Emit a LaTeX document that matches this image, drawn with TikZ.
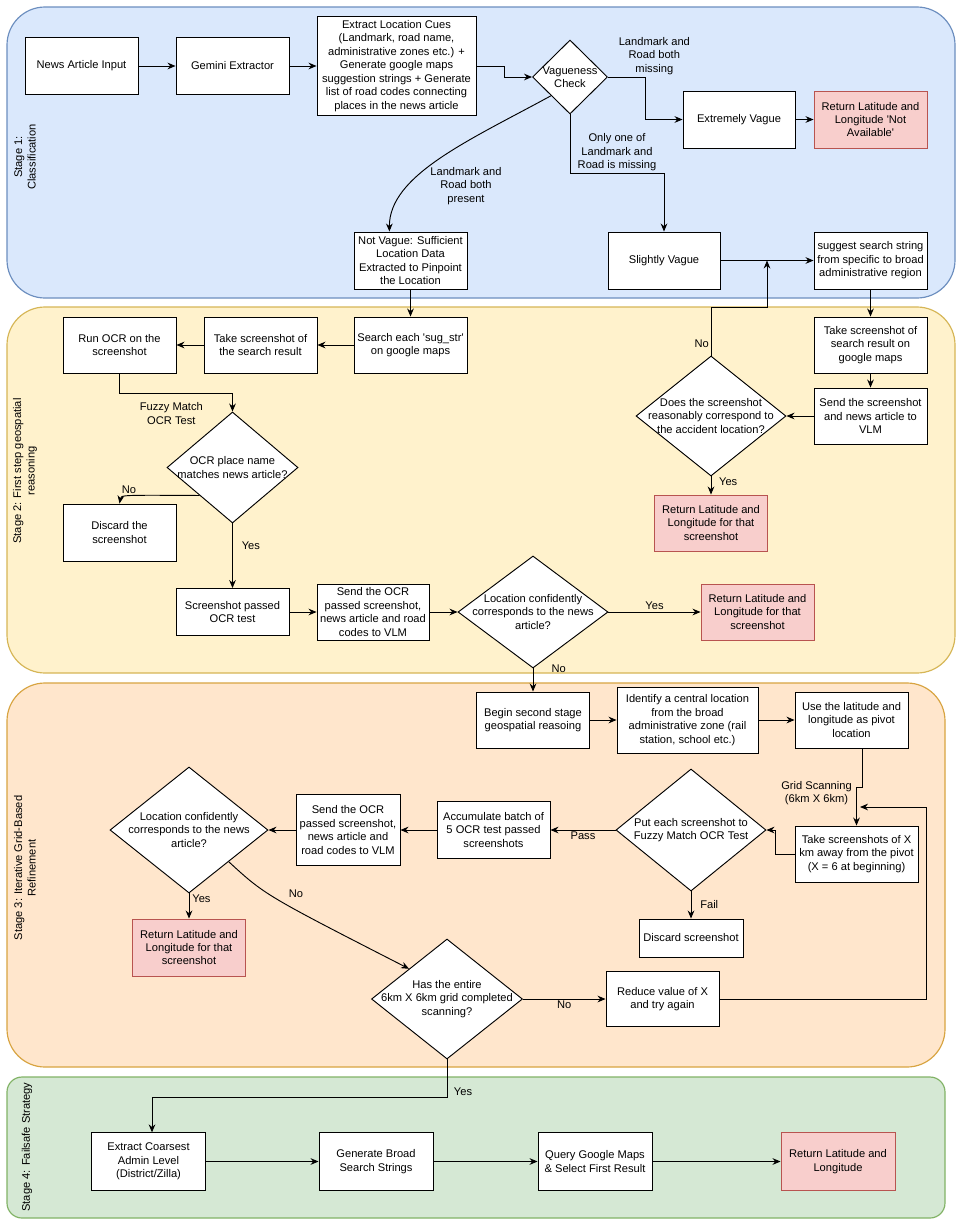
\documentclass[tikz,border=0pt]{standalone}
\usepackage{fontspec}
\setmainfont{Liberation Sans}
\usetikzlibrary{arrows.meta,shapes.geometric}
\definecolor{clsF}{HTML}{DAE8FC}
\definecolor{clsD}{HTML}{6C8EBF}
\definecolor{geoF}{HTML}{FFF2CC}
\definecolor{geoD}{HTML}{D6B656}
\definecolor{gridF}{HTML}{FFE6CC}
\definecolor{gridD}{HTML}{D8A441}
\definecolor{safeF}{HTML}{D5E8D4}
\definecolor{safeD}{HTML}{82B366}
\definecolor{retF}{HTML}{F8CECC}
\definecolor{retD}{HTML}{B85450}
\newcommand\dfont{\fontsize{9.5}{11.5}\selectfont}
\tikzset{
  box/.style={draw, fill=white, line width=0.8pt, align=center, inner sep=1pt,
              minimum width=3.39cm, minimum height=1.71cm, font=\dfont},
  ret/.style={box, fill=retF, draw=retD},
  fbox/.style={box, minimum width=3.42cm, minimum height=1.72cm},
  dec/.style={diamond, draw, fill=white, line width=0.8pt, inner sep=0pt},
  dtxt/.style={font=\dfont, align=center, inner sep=0pt},
  arr/.style={-{Stealth[length=2.4mm,width=2mm]}, line width=0.8pt},
  lab/.style={font=\dfont, align=center, inner sep=1.5pt},
  lane/.style={rounded corners=1.14cm, line width=1pt},
  lanetxt/.style={font=\dfont, align=center, rotate=90},
}
\newcommand\latlon{Return Latitude and\\Longitude for that\\screenshot}

\begin{document}
\begin{tikzpicture}[x=0.03cm, y=-0.03cm]
\fill[white] (0,0) rectangle (963,1226);
\useasboundingbox (0,0) rectangle (963,1226);
% swimlanes
\draw[lane, fill=clsF, draw=clsD] (7,7) rectangle (955,298);
\draw[lane, fill=geoF, draw=geoD] (7,307) rectangle (955,673);
\draw[lane, fill=gridF, draw=gridD] (7,683) rectangle (945,1067);
\draw[lane, rounded corners=0.45cm, fill=safeF, draw=safeD] (7,1077) rectangle (945,1218);
\node[lanetxt] (st1) at (25,157) {Stage 1:\\Classification};
\node[lanetxt] (st2) at (25,471) {Stage 2: First step geospatial\\reasoning};
\node[lanetxt] (st3) at (25,868) {Stage 3: Iterative Grid-Based\\Refinement};
\node[lanetxt] (st4) at (27,1147) {Stage 4: Failsafe Strategy};
% stage 1
\node[box] (news) at (81.5,66) {News Article Input};
\node[box] (gem) at (232.5,66) {Gemini Extractor};
\node[box, minimum width=4.77cm, minimum height=2.97cm] (cues) at (396.5,66) {Extract Location Cues\\(Landmark, road name,\\administrative zones etc.) +\\Generate google maps\\suggestion strings + Generate\\list of road codes connecting\\places in the news article};
\node[dec, minimum width=2.25cm, minimum height=2.22cm, label={[dtxt]center:Vagueness\\Check}] (vag) at (570,77) {};
\node[box, minimum width=3.36cm] (xvague) at (739,119.5) {Extremely Vague};
\node[ret] (nna) at (870.5,119.5) {Return Latitude and\\Longitude \textquotesingle Not\\Available\textquotesingle};
\node[box, minimum width=3.36cm] (svague) at (664,260.5) {Slightly Vague};
\node[box] (sugg) at (870.5,260.5) {suggest search string\\from specific to broad\\administrative region};
\node[box] (notv) at (410.5,260.5) {Not Vague: Sufficient\\Location Data\\Extracted to Pinpoint\\the Location};
% stage 2
\node[box, minimum height=1.68cm] (search) at (410.5,345) {Search each \textquotesingle sug\_str\textquotesingle\\on google maps};
\node[box, minimum height=1.68cm] (shot) at (260.5,345) {Take screenshot of\\the search result};
\node[box, minimum height=1.68cm] (ocr) at (119.5,345) {Run OCR on the\\screenshot};
\node[dec, minimum width=3.93cm, minimum height=3.33cm, label={[dtxt]center:OCR place name\\matches news article?}] (match) at (232.5,467.5) {};
\node[box] (discard) at (119.5,532.5) {Discard the\\screenshot};
\node[box, minimum height=1.41cm] (passed) at (232.5,612) {Screenshot passed\\OCR test};
\node[box, minimum width=3.36cm, minimum height=1.68cm] (vlm) at (373,612) {Send the OCR\\passed screenshot,\\news article and road\\codes to VLM};
\node[dec, minimum width=4.5cm, minimum height=3.36cm, label={[dtxt]center:Location confidently\\corresponds to the news\\article?}] (conf) at (533,612) {};
\node[ret, minimum height=1.68cm] (ret1) at (757.5,612) {\latlon};
\node[box, minimum height=1.68cm] (gshot) at (870.5,345) {Take screenshot of\\search result on\\google maps};
\node[box, minimum height=1.68cm] (gvlm) at (870.5,416) {Send the screenshot\\and news article to\\VLM};
\node[dec, minimum width=4.5cm, minimum height=3.6cm, label={[dtxt]center:Does the screenshot\\reasonably correspond to\\the accident location?}] (corr) at (711,416) {};
\node[ret, minimum height=1.68cm] (ret2) at (711,523) {\latlon};
% stage 3
\node[box, minimum height=1.68cm] (begin) at (533,720) {Begin second stage\\geospatial reasoing};
\node[box, minimum width=4.23cm, minimum height=1.98cm] (ident) at (687.5,720) {Identify a central location\\from the broad\\administrative zone (rail\\station, school etc.)};
\node[box, minimum height=1.68cm] (pivot) at (851.5,720) {Use the latitude and\\longitude as pivot\\location};
\node[box, minimum width=3.69cm, minimum height=1.68cm] (grid) at (856.5,854) {Take screenshots of X\\km away from the pivot\\(X = 6 at beginning)};
\node[dec, minimum width=4.5cm, minimum height=3.66cm, label={[dtxt]center:Put each screenshot to\\Fuzzy Match OCR Test}] (fuzzy) at (691,830) {};
\node[box] (acc) at (493.5,830) {Accumulate batch of\\5 OCR test passed\\screenshots};
\node[box, minimum width=3.12cm, minimum height=2.13cm] (vlm3) at (348,830) {Send the OCR\\passed screenshot,\\news article and\\road codes to VLM};
\node[dec, minimum width=4.74cm, minimum height=3.78cm, label={[dtxt]center:Location confidently\\corresponds to the news\\article?}] (conf3) at (189,830) {};
\node[ret] (ret3) at (189,947.5) {\latlon};
\node[box, minimum width=3.12cm, minimum height=1.14cm] (drop) at (691,938) {Discard screenshot};
\node[dec, minimum width=4.53cm, minimum height=3.6cm, label={[dtxt]center:Has the entire\\6km X 6km grid completed\\scanning?}] (done) at (447,999) {};
\node[box, minimum height=1.65cm] (reduce) at (662.5,999) {Reduce value of X\\and try again};
% stage 4
\node[fbox] (coarse) at (148.5,1161.5) {Extract Coarsest\\Admin Level\\(District/Zilla)};
\node[fbox] (broad) at (376,1161.5) {Generate Broad\\Search Strings};
\node[fbox] (query) at (595,1161.5) {Query Google Maps\\\& Select First Result};
\node[fbox, fill=retF, draw=retD] (ret4) at (838,1161.5) {Return Latitude and\\Longitude};
% connectors
\draw[arr] (news) -- (gem);
\draw[arr] (gem) -- (cues);
\draw[arr] (cues.east) -- ++(28,0) |- (vag.west);
\draw[arr] (vag.east) -- ++(37,0) node[lab, above, xshift=8pt] {Landmark and\\Road both\\missing} |- (xvague.west);
\draw[arr] (xvague) -- (nna);
\draw[arr] (vag.south) -- ++(0,59) -| node[lab, pos=0.25, above] {Only one of\\Landmark and\\Road is missing} (svague.north);
\draw[arr] (vag.south west) .. controls (470,140) and (389,175) .. ([xshift=-18pt]notv.north) node[lab] at (466,186) {Landmark and\\Road both\\present};
\draw[arr] (svague) -- (sugg);
\draw[arr] (notv) -- (search);
\draw[arr] (sugg) -- (gshot);
\draw[arr] (gshot) -- (gvlm);
\draw[arr] (gvlm) -- (corr);
\draw[arr] (corr) -- node[lab, right=5pt, pos=0.3] {Yes} (ret2);
\coordinate (join) at (767,260.5);
\draw[arr] (corr.north) -- node[lab, left, pos=0.25] {No} ++(0,-48) -| (join);
\draw[arr] (search) -- (shot);
\draw[arr] (shot) -- (ocr);
\draw[arr] (ocr.south) -- ++(0,20) -| node[lab, pos=0.25, below=6pt, xshift=-4pt] {Fuzzy Match\\OCR Test} (match.north);
\draw[arr] (match.south west) .. controls (121,495) .. node[lab, pos=0.53, above] {No} (discard.north);
\draw[arr] (match) -- node[lab, right=6pt, pos=0.35] {Yes} (passed);
\draw[arr] (passed) -- (vlm);
\draw[arr] (vlm) -- (conf);
\draw[arr] (conf) -- node[lab, above] {Yes} (ret1);
\draw[arr] (conf) -- node[lab, right=14pt, pos=0] {No} (begin);
\draw[arr] (begin) -- (ident);
\draw[arr] (ident) -- (pivot);
\draw[arr] ([xshift=9pt]pivot.south) -- ++(0,39) node[lab, anchor=east] at (854,793) {Grid Scanning\\(6km X 6km)} -| (grid.north);
\draw[arr] (grid.west) -- ++(-19,0) |- (fuzzy.east);
\draw[arr] (fuzzy) -- node[lab, below] {Pass} (acc);
\draw[arr] (fuzzy) -- node[lab, right=6pt] {Fail} (drop);
\draw[arr] (acc) -- (vlm3);
\draw[arr] (vlm3) -- (conf3);
\draw[arr] (conf3) -- node[lab, right=1pt, pos=0.2] {Yes} (ret3);
\draw[arr] (conf3.south east) .. controls (265,895) .. (done.north west) node[lab] at (296,894) {No};
\draw[arr] (done) -- node[lab, below] {No} (reduce);
\coordinate (back) at (860,807);
\draw[arr] (reduce.east) -- ++(207,0) |- (back);
\draw[arr] (done.south) -- node[lab, right=4pt, pos=0.85] {Yes} ++(0,38) -| ([xshift=3pt]coarse.north);
\draw[arr] (coarse) -- (broad);
\draw[arr] (broad) -- (query);
\draw[arr] (query) -- (ret4);
\end{tikzpicture}
\end{document}
